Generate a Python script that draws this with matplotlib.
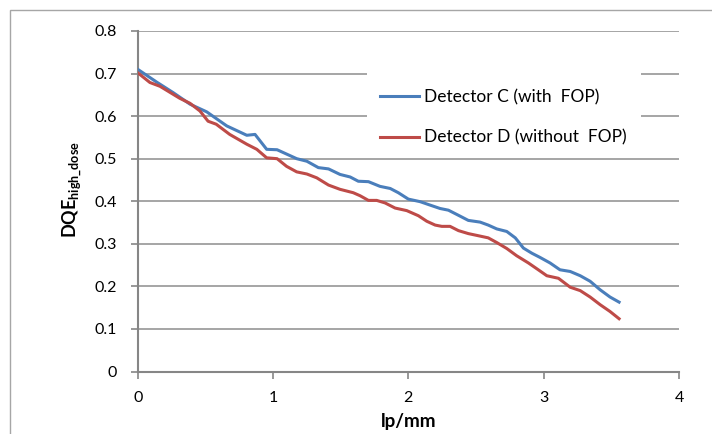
import matplotlib
matplotlib.use("Agg")
import matplotlib.pyplot as plt
from matplotlib.patches import Rectangle

plt.rcParams['font.family'] = ['Lato', 'DejaVu Sans']
plt.rcParams['mathtext.fontset'] = 'custom'
plt.rcParams['mathtext.bf'] = 'Lato:bold'
plt.rcParams['mathtext.rm'] = 'Lato'

# Detector C (with FOP)
c_x = [0.0, 0.14, 0.263, 0.387, 0.51, 0.658, 0.806, 0.867, 0.953, 1.03,
       1.175, 1.25, 1.335, 1.41, 1.495, 1.57, 1.63, 1.705, 1.79, 1.866,
       1.926, 2.0, 2.087, 2.16, 2.234, 2.296, 2.37, 2.443, 2.53, 2.59,
       2.653, 2.727, 2.79, 2.85, 2.912, 2.973, 3.047, 3.12, 3.196, 3.27,
       3.343, 3.417, 3.49, 3.557]
c_y = [0.710, 0.680, 0.655, 0.628, 0.610, 0.577, 0.555, 0.557, 0.522, 0.521,
       0.500, 0.494, 0.479, 0.476, 0.463, 0.457, 0.447, 0.446, 0.435, 0.430,
       0.420, 0.405, 0.399, 0.391, 0.383, 0.379, 0.367, 0.355, 0.351, 0.344,
       0.335, 0.329, 0.314, 0.290, 0.278, 0.268, 0.255, 0.239, 0.235, 0.225,
       0.212, 0.192, 0.175, 0.163]

# Detector D (without FOP)
d_x = [0.0, 0.09, 0.165, 0.31, 0.387, 0.46, 0.52, 0.58, 0.68, 0.806,
       0.88, 0.953, 1.03, 1.10, 1.175, 1.25, 1.323, 1.41, 1.495, 1.593,
       1.643, 1.705, 1.766, 1.828, 1.902, 1.988, 2.074, 2.136, 2.198, 2.247,
       2.308, 2.37, 2.443, 2.517, 2.59, 2.653, 2.727, 2.8, 2.887, 2.96,
       3.023, 3.109, 3.196, 3.27, 3.343, 3.417, 3.49, 3.557]
d_y = [0.702, 0.679, 0.670, 0.642, 0.630, 0.612, 0.588, 0.581, 0.557, 0.534,
       0.522, 0.502, 0.500, 0.482, 0.469, 0.464, 0.455, 0.438, 0.428, 0.420,
       0.413, 0.402, 0.402, 0.396, 0.384, 0.378, 0.366, 0.353, 0.344, 0.341,
       0.341, 0.331, 0.324, 0.319, 0.314, 0.303, 0.289, 0.272, 0.255, 0.239,
       0.225, 0.219, 0.198, 0.190, 0.175, 0.157, 0.141, 0.124]

x_ticks = [0, 1, 2, 3, 4]
y_ticks = [0, 0.1, 0.2, 0.3, 0.4, 0.5, 0.6, 0.7, 0.8]
y_tick_labels = ['0', '0.1', '0.2', '0.3', '0.4', '0.5', '0.6', '0.7', '0.8']

fig = plt.figure(figsize=(7.12, 4.34), dpi=100)
ax = fig.add_axes([0.1934, 0.144, 0.7603, 0.7846])

# outer chart border (only top/left visible in the crop)
fig.patches.append(Rectangle((10 / 712, -0.2), 1.2, 1.2 - 10 / 434,
                             transform=fig.transFigure, fill=False,
                             edgecolor='#a6a6a6', linewidth=1.0))

grid_col = '#969696'
ax.set_axisbelow(True)
ax.yaxis.grid(True, color=grid_col, linewidth=1.2)
ax.set_xlim(0, 4)
ax.set_ylim(0, 0.8)
ax.set_xticks(x_ticks)
ax.set_yticks(y_ticks)
ax.set_yticklabels(y_tick_labels)
for s in ['top', 'right']:
    ax.spines[s].set_visible(False)
for s in ['left', 'bottom']:
    ax.spines[s].set_color('#868686')
    ax.spines[s].set_linewidth(1.5)
ax.tick_params(axis='both', direction='out', length=5, width=1.2, color='#868686',
               labelsize=11.5, labelcolor='black')
ax.tick_params(axis='y', pad=10)
ax.tick_params(axis='x', pad=9)

# white box behind legend hides the gridlines there
ax.add_patch(Rectangle((0.4236, 0.51 / 0.8), 0.5062, (0.715 - 0.51) / 0.8,
                       transform=ax.transAxes, facecolor='white',
                       edgecolor='none', zorder=1))

ax.plot(c_x, c_y, color='#4a7ebb', linewidth=2.2, label='Detector C (with  FOP)', zorder=3)
ax.plot(d_x, d_y, color='#be4b48', linewidth=2.2, label='Detector D (without  FOP)', zorder=3)

ax.legend(loc='upper left', bbox_to_anchor=(0.4476, 0.83), frameon=False,
          fontsize=12.5, borderpad=0, borderaxespad=0, handlelength=2.25,
          handletextpad=0.3, labelspacing=1.42)

ax.set_xlabel('lp/mm', fontsize=13.5, fontweight='bold')
ax.xaxis.set_label_coords(0.5, -0.122)
ax.set_ylabel(r'$\mathbf{DQE}_{\mathbf{high\_dose}}$', fontsize=13)
ax.yaxis.set_label_coords(-0.10, 0.533)

fig.savefig('out.png', dpi=100)
